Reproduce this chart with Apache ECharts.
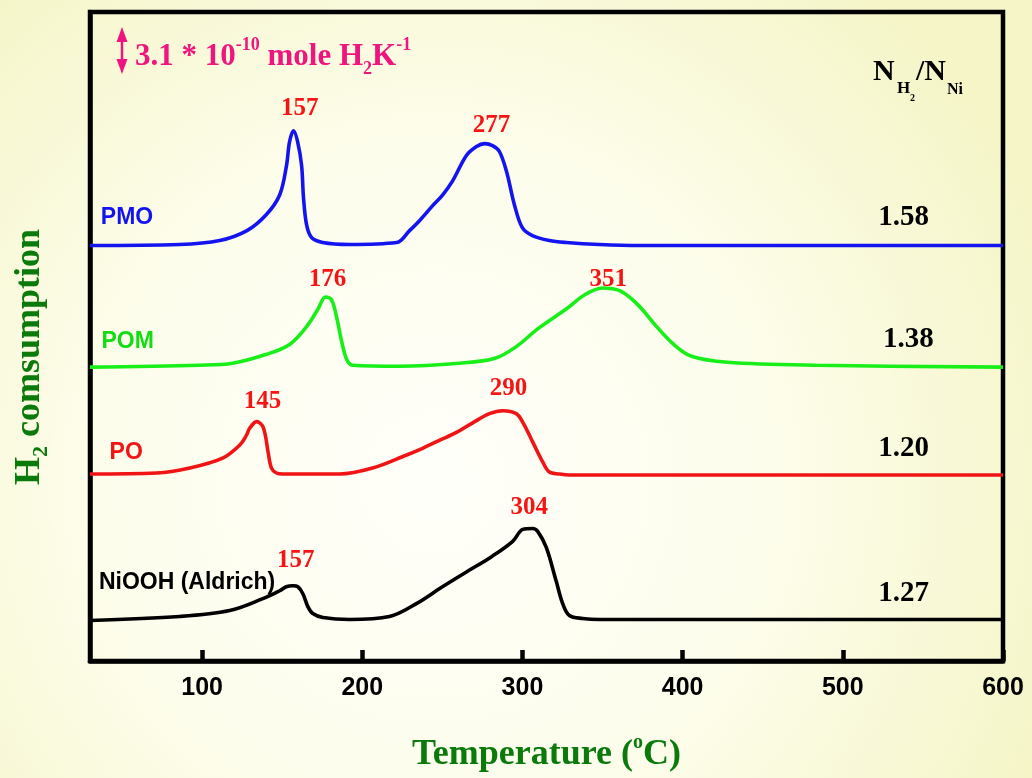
<!DOCTYPE html>
<html><head><meta charset="utf-8">
<script src="https://cdn.jsdelivr.net/npm/echarts@6.0.0/dist/echarts.min.js"></script>
<style>html,body{margin:0;padding:0;}#c{width:1032px;height:778px;}</style>
</head><body><div id="c"></div>
<script>
// Temperature (°C) and H2 consumption (arbitrary units, offset stacked)
const pmoT = [30, 86, 111, 128, 140, 148.4, 152.7, 154.6, 157.1, 159.6, 162.1, 163.3, 165.2, 168.3, 175.2, 192, 221.4, 229.5, 235.7, 243.8, 250.1, 256.3, 265, 271.3, 276.3, 281.3, 285.6, 290, 295, 299.9, 306.2, 316.8, 327.4, 348, 372.9, 600];
const pmoV = [420, 421, 425, 435, 451, 471, 501, 525, 536, 525, 501, 468, 441, 428, 423, 421, 423, 435, 445, 460, 471, 485, 511, 520, 523, 521, 515, 495, 461, 438, 430, 425, 423, 421, 420, 420];

const pomT = [30, 98.4, 119, 140.2, 154.6, 165.2, 172.1, 177.1, 180.8, 183.9, 187.1, 190.2, 193.9, 223.2, 260.6, 282.9, 296.3, 309.7, 327.5, 338.7, 349.9, 361, 372.1, 383.2, 394.4, 405.5, 427.9, 483.5, 600];
const pomV = [297, 299, 301, 310, 320, 338, 355, 368, 365, 348, 323, 305, 299, 298, 301, 306, 318, 336, 356, 370, 377, 374, 360, 339, 320, 308, 302, 299, 297];

const poT = [30, 71.6, 92.2, 112.8, 123.4, 127.6, 129.6, 134, 138.2, 141.2, 143.3, 146.4, 150.2, 185.8, 206.4, 227.3, 237.6, 248.1, 258.8, 269.2, 279.4, 287.7, 296.1, 300.3, 306.5, 312.7, 316.8, 323, 329.3, 600];
const poV = [189, 190, 195, 205, 218, 228, 235, 242, 236, 211, 195, 190, 189, 189, 195, 208, 215, 223, 231, 241, 250, 253, 250, 241, 221, 201, 191, 189, 188, 188];

const niT = [30, 86, 117.2, 137.9, 148.4, 152.5, 156.7, 159.8, 162.9, 166, 169.1, 175.4, 192, 217, 233.8, 250, 265, 281.2, 293.9, 300.2, 306.4, 309.5, 314.8, 321, 325.1, 329.3, 337.6, 348, 600];
const niV = [41, 45, 51, 63, 71, 75, 76, 75, 68, 55, 48, 44, 42, 45, 58, 75, 90, 106, 121, 133, 134, 131, 115, 81, 58, 46, 43, 42, 42];

// peak temperature labels
const peakText = ['157', '277', '176', '351', '145', '290', '157', '304'];
const peakT = [160.9, 280.7, 178.3, 353.6, 137.7, 291.2, 158.4, 304.3];
const peakV = [558, 541, 386, 386, 262, 275, 102, 155];

// sample names
const sampleNames = ['PMO', 'POM', 'PO', 'NiOOH (Aldrich)'];
const sampleColors = ['#1414f0', '#18ee18', '#f01414', '#000000'];
const nameColors = ['#1414f0', '#12dd12', '#f01414', '#000000'];
const nameT = [53.1, 53.5, 52.6, 90.6];
const nameV = [448, 323, 211, 79];

// N_H2/N_Ni ratios
const ratioText = ['1.58', '1.38', '1.20', '1.27'];
const ratioT = [538, 541, 538, 538];
const ratioV = [448, 325, 215, 68];

const xTicks = [100, 200, 300, 400, 500, 600];

const SERIF = '"Liberation Serif", "Times New Roman", serif';
const SANS = '"Liberation Sans", Arial, sans-serif';
const PINK = '#f0147e';
const GREEN = '#0a7a0a';

const chart = echarts.init(document.getElementById('c'), null, {renderer: 'canvas'});

function line(name, T, V, color) {
  return {
    type: 'line', name: name, data: T.map((t, i) => [t, V[i]]),
    smooth: 0.35, showSymbol: false, symbol: 'none',
    lineStyle: {color: color, width: 3.6}, z: 3, silent: true
  };
}

function textSeries(T, V, texts, labelStyle, colors) {
  return {
    type: 'scatter', symbolSize: 1, itemStyle: {color: 'transparent', opacity: 1}, z: 5, silent: true,
    data: T.map((t, i) => {
      const d = {value: [t, V[i]], name: texts[i]};
      if (colors) d.label = {color: colors[i]};
      return d;
    }),
    label: Object.assign({show: true, position: 'inside', opacity: 1, formatter: p => p.name}, labelStyle)
  };
}

const option = {
  animation: false,
  backgroundColor: {
    type: 'radial', x: 0.42, y: 0.62, r: 0.85,
    colorStops: [{offset: 0, color: '#fffffa'}, {offset: 0.5, color: '#fdfdec'}, {offset: 1, color: '#f5f5c8'}]
  },
  grid: {left: 90, right: 29, top: 12, bottom: 110, show: true, borderColor: '#000', borderWidth: 4.5, backgroundColor: 'transparent'},
  xAxis: {
    type: 'value', min: 30, max: 600,
    axisLine: {show: true, lineStyle: {color: '#000', width: 4.5}},
    axisTick: {show: true, inside: true, length: 11, lineStyle: {color: '#000', width: 4.5},
      customValues: xTicks},
    axisLabel: {margin: 15, fontSize: 25, fontWeight: 'bold', fontFamily: SANS, color: '#000',
      customValues: xTicks},
    splitLine: {show: false},
    name: '{a|Temperature (}{s|o}{a|C)}', nameLocation: 'middle', nameGap: 72,
    nameTextStyle: {
      rich: {
        a: {fontSize: 36, fontWeight: 'bold', fontFamily: SERIF, color: GREEN, lineHeight: 44},
        s: {fontSize: 20, fontWeight: 'bold', fontFamily: SERIF, color: GREEN, verticalAlign: 'top', lineHeight: 20}
      }
    }
  },
  yAxis: {
    type: 'value', min: 0, max: 656,
    axisLine: {show: true, lineStyle: {color: '#000', width: 4.5}},
    axisTick: {show: false}, axisLabel: {show: false}, splitLine: {show: false}
  },
  series: [
    line('PMO', pmoT, pmoV, sampleColors[0]),
    line('POM', pomT, pomV, sampleColors[1]),
    line('PO', poT, poV, sampleColors[2]),
    line('NiOOH (Aldrich)', niT, niV, sampleColors[3]),
    textSeries(peakT, peakV, peakText, {fontSize: 25, fontWeight: 'bold', fontFamily: SERIF, color: '#f51515'}),
    textSeries(nameT, nameV, sampleNames, {fontSize: 23, fontWeight: 'bold', fontFamily: SANS}, nameColors),
    textSeries(ratioT, ratioV, ratioText, {fontSize: 29, fontWeight: 'bold', fontFamily: SERIF, color: '#000'})
  ],
  graphic: [
    // scale bar arrow
    {type: 'polygon', shape: {points: [[122, 27], [116.5, 42], [127.5, 42]]}, style: {fill: PINK}, silent: true},
    {type: 'polygon', shape: {points: [[122, 74], [116.5, 59], [127.5, 59]]}, style: {fill: PINK}, silent: true},
    {type: 'line', shape: {x1: 122, y1: 40, x2: 122, y2: 61}, style: {stroke: PINK, lineWidth: 2.5}, silent: true},
    {type: 'text', x: 135, y: 57, silent: true, style: {
      text: '{m|3.1 * 10}{p|-10}{m| mole H}{b|2}{m|K}{p|-1}', verticalAlign: 'middle', align: 'left',
      rich: {
        m: {fontSize: 31, fontWeight: 'bold', fontFamily: SERIF, fill: PINK, color: PINK, lineHeight: 42},
        p: {fontSize: 18, fontWeight: 'bold', fontFamily: SERIF, fill: PINK, color: PINK, verticalAlign: 'top', lineHeight: 18},
        b: {fontSize: 18, fontWeight: 'bold', fontFamily: SERIF, fill: PINK, color: PINK, verticalAlign: 'bottom', lineHeight: 18}
      }
    }},
    // N_H2 / N_Ni header
    {type: 'text', x: 873, y: 72, silent: true, style: {text: 'N', font: 'bold 30px ' + SERIF, fill: '#000', verticalAlign: 'middle'}},
    {type: 'text', x: 897, y: 89, silent: true, style: {text: 'H', font: 'bold 17px ' + SERIF, fill: '#000', verticalAlign: 'middle'}},
    {type: 'text', x: 910, y: 98, silent: true, style: {text: '2', font: 'bold 10px ' + SERIF, fill: '#000', verticalAlign: 'middle'}},
    {type: 'text', x: 916, y: 72, silent: true, style: {text: '/N', font: 'bold 30px ' + SERIF, fill: '#000', verticalAlign: 'middle'}},
    {type: 'text', x: 947, y: 90, silent: true, style: {text: 'Ni', font: 'bold 16px ' + SERIF, fill: '#000', verticalAlign: 'middle'}},
    // y axis title
    {type: 'text', x: 30, y: 357, rotation: Math.PI / 2, silent: true, style: {
      text: '{a|H}{s|2}{a| comsumption}', align: 'center', verticalAlign: 'middle',
      rich: {
        a: {fontSize: 36, fontWeight: 'bold', fontFamily: SERIF, fill: GREEN, color: GREEN, lineHeight: 44},
        s: {fontSize: 22, fontWeight: 'bold', fontFamily: SERIF, fill: GREEN, color: GREEN, verticalAlign: 'bottom', lineHeight: 22}
      }
    }}
  ]
};
chart.setOption(option);
</script></body></html>
